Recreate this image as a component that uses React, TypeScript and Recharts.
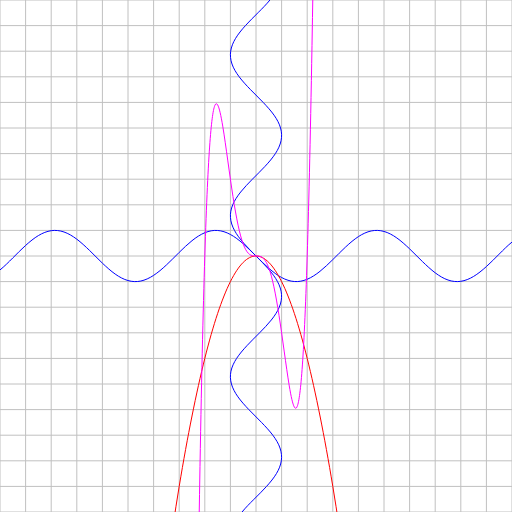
import React from "react";
import { LineChart, Line, XAxis, YAxis, CartesianGrid } from "recharts";

// sample positions along the wave (units)
const waveT = [
  -10.5, -10, -9.5, -9, -8.5, -8, -7.5, -7, -6.5, -6, -5.5, -5, -4.5, -4, -3.5, -3, -2.5, -2, -1.5, -1, -0.5,
  0, 0.5, 1, 1.5, 2, 2.5, 3, 3.5, 4, 4.5, 5, 5.5, 6, 6.5, 7, 7.5, 8, 8.5, 9, 9.5, 10, 10.5,
];
// wave displacement read at each position
const waveV = [
  -0.88, -0.544, -0.075, 0.412, 0.798, 0.989, 0.938, 0.657, 0.215, -0.279, -0.706, -0.959, -0.978, -0.757, -0.351,
  0.141, 0.598, 0.909, 0.997, 0.841, 0.479, 0, -0.479, -0.841, -0.997, -0.909, -0.598, -0.141, 0.351, 0.757,
  0.978, 0.959, 0.706, 0.279, -0.215, -0.657, -0.938, -0.989, -0.798, -0.412, 0.075, 0.544, 0.88,
];

// red parabola
const parabolaX = [-3.5, -3, -2.5, -2, -1.5, -1, -0.5, 0, 0.5, 1, 1.5, 2, 2.5, 3, 3.5];
const parabolaY = [-12.25, -9, -6.25, -4, -2.25, -1, -0.25, 0, -0.25, -1, -2.25, -4, -6.25, -9, -12.25];

// magenta curve
const polyX = [
  -2.4, -2.3, -2.2, -2.1, -2.0, -1.9, -1.8, -1.7, -1.6, -1.5, -1.4, -1.3, -1.2, -1.1, -1.0, -0.9, -0.8, -0.7,
  -0.6, -0.5, -0.4, -0.3, -0.2, -0.1, 0, 0.1, 0.2, 0.3, 0.4, 0.5, 0.6, 0.7, 0.8, 0.9, 1.0, 1.1, 1.2, 1.3, 1.4,
  1.5, 1.6, 1.7, 1.8, 1.9, 2.0, 2.1, 2.2, 2.3, 2.4,
];
const polyY = [
  -24.33, -15.695, -8.944, -3.797, 0, 2.675, 4.432, 5.453, 5.898, 5.906, 5.598, 5.075, 4.424, 3.714, 3, 2.326,
  1.72, 1.204, 0.786, 0.469, 0.246, 0.106, 0.032, 0.004, 0, -0.004, -0.032, -0.106, -0.246, -0.469, -0.786,
  -1.204, -1.72, -2.326, -3, -3.714, -4.424, -5.075, -5.598, -5.906, -5.898, -5.453, -4.432, -2.675, 0, 3.797,
  8.944, 15.695, 24.33,
];

const gridTicksX = [-10, -9, -8, -7, -6, -5, -4, -3, -2, -1, 0, 1, 2, 3, 4, 5, 6, 7, 8, 9];
const gridTicksY = [-10, -9, -8, -7, -6, -5, -4, -3, -2, -1, 0, 1, 2, 3, 4, 5, 6, 7, 8, 9];

const horizWave = waveT.map((t, i) => ({ x: t, y: waveV[i] }));
const vertWave = waveT.map((t, i) => ({ x: waveV[i], y: t }));
const parabola = parabolaX.map((x, i) => ({ x, y: parabolaY[i] }));
const poly = polyX.map((x, i) => ({ x, y: polyY[i] }));

export default function App() {
  return (
    <div style={{ position: "absolute", left: 0, top: 0, width: 512, height: 512, background: "#fff" }}>
      <LineChart width={512} height={512} margin={{ top: 0, right: 0, bottom: 0, left: 0 }}>
        <CartesianGrid stroke="#c0c0c0" strokeWidth={1} />
        <XAxis
          type="number"
          dataKey="x"
          domain={[-10, 10]}
          ticks={gridTicksX}
          allowDataOverflow
          hide
        />
        <YAxis
          type="number"
          dataKey="y"
          domain={[-10, 10]}
          ticks={gridTicksY}
          allowDataOverflow
          hide
        />
        <Line data={horizWave} dataKey="y" type="natural" stroke="#0000ff" strokeWidth={1} dot={false} activeDot={false} isAnimationActive={false} />
        <Line data={vertWave} dataKey="y" type="natural" stroke="#0000ff" strokeWidth={1} dot={false} activeDot={false} isAnimationActive={false} />
        <Line data={parabola} dataKey="y" type="natural" stroke="#ff0000" strokeWidth={1} dot={false} activeDot={false} isAnimationActive={false} />
        <Line data={poly} dataKey="y" type="natural" stroke="#ff00ff" strokeWidth={1} dot={false} activeDot={false} isAnimationActive={false} />
      </LineChart>
    </div>
  );
}
